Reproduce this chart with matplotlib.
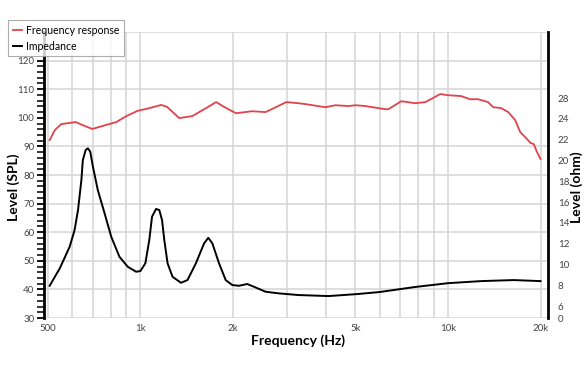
import matplotlib
matplotlib.use("Agg")
import matplotlib.pyplot as plt
from matplotlib.ticker import FixedLocator, NullFormatter, NullLocator

plt.rcParams['font.family'] = ['Lato', 'DejaVu Sans']

# ---- data ----
spl_freq = [507, 527, 553, 589, 616, 647, 698, 751, 835, 900, 978, 1071, 1169, 1222,
            1337, 1475, 1636, 1763, 1872, 2046, 2306, 2556, 2754, 2986, 3260, 3437,
            3995, 4306, 4752, 5010, 5396, 6260, 6400, 7055, 7835, 8445, 9445, 10000,
            11030, 11800, 12530, 13500, 14030, 14880, 15700, 16540, 17180, 17960,
            18560, 19020, 19480, 20000]
spl_db = [92.2, 95.7, 97.8, 98.2, 98.5, 97.5, 96.1, 97.1, 98.5, 100.6, 102.4, 103.4,
          104.5, 103.8, 99.9, 100.6, 103.4, 105.5, 103.8, 101.6, 102.3, 102.0, 103.7,
          105.5, 105.1, 104.8, 103.7, 104.4, 104.1, 104.4, 104.1, 103.0, 103.0, 105.8,
          105.1, 105.5, 108.3, 107.9, 107.6, 106.5, 106.5, 105.5, 103.7, 103.4, 102.0,
          99.2, 95.0, 92.9, 91.2, 90.8, 88.0, 85.6]

imp_freq = [507, 547, 589, 611, 627, 643, 650, 664, 675, 687, 701, 727, 765, 804, 855,
            910, 969, 1000, 1038, 1069, 1091, 1124, 1152, 1176, 1196, 1226, 1272, 1355,
            1423, 1515, 1611, 1663, 1714, 1802, 1894, 1990, 2091, 2225, 2339, 2552,
            2818, 3260, 4090, 5055, 6000, 7800, 10000, 12800, 16350, 20000]
imp_ohm = [7.95, 9.63, 11.71, 13.31, 15.24, 18.13, 20.05, 21.02, 21.18, 20.85, 19.41,
           17.16, 14.92, 12.67, 10.74, 9.78, 9.30, 9.37, 10.11, 12.35, 14.59, 15.34,
           15.24, 14.28, 12.35, 10.11, 8.82, 8.24, 8.50, 10.11, 12.03, 12.57, 12.03,
           10.11, 8.50, 8.02, 7.95, 8.12, 7.86, 7.38, 7.22, 7.06, 6.96, 7.15, 7.35,
           7.83, 8.2, 8.4, 8.5, 8.4]

x_tick_vals = [500, 1000, 2000, 5000, 10000, 20000]
x_tick_labels = ['500', '1k', '2k', '5k', '10k', '20k']
x_grid_vals = [500, 600, 700, 800, 900, 1000, 2000, 3000, 4000, 5000, 6000, 7000,
               8000, 9000, 10000, 20000]
spl_ticks = [30, 40, 50, 60, 70, 80, 90, 100, 110, 120]
spl_grid = [30, 40, 50, 60, 70, 80, 90, 110, 120, 130]
ohm_ticks = [4.85, 6, 8, 10, 12, 14, 16, 18, 20, 22, 24, 26]
ohm_labels = ['0', '6', '8', '10', '12', '14', '16', '18', '20', '22', '24', '28']

RED = '#e0434b'
GRID = '#d4d4d4'
TXT = '#444444'

W, H = 588, 372
fig = plt.figure(figsize=(W/100, H/100), dpi=100)
ax = fig.add_axes([44/W, 1-318/H, (548-44)/W, (318-32)/H])
ax.set_xscale('log')
ax.set_xlim(486, 21150)
ax.set_ylim(30, 130)

for v in x_grid_vals:
    ax.axvline(v, color=GRID, lw=1.1, zorder=0)
for v in spl_grid:
    ax.axhline(v, color=GRID, lw=1.1, zorder=0)

ax.xaxis.set_major_locator(FixedLocator(x_tick_vals))
ax.set_xticklabels(x_tick_labels)
ax.xaxis.set_minor_locator(NullLocator())
ax.tick_params(axis='x', length=0, labelsize=7, colors=TXT, pad=4)

ax.yaxis.set_major_locator(FixedLocator(spl_ticks))
ax.yaxis.set_minor_locator(FixedLocator(list(range(30, 122, 2))))
ax.yaxis.set_minor_formatter(NullFormatter())
ax.tick_params(axis='y', which='major', direction='out', length=5, width=1.3,
               color='black', labelsize=7, labelcolor=TXT, pad=2)
ax.tick_params(axis='y', which='minor', direction='out', length=5, width=1.1,
               color='black')

for s in ['top', 'bottom', 'right']:
    ax.spines[s].set_visible(False)
ax.spines['left'].set_linewidth(2.0)
ax.spines['left'].set_color('black')

ax.plot(spl_freq, spl_db, color=RED, lw=1.3, label='Frequency response', zorder=3,
        solid_joinstyle='round')

ax2 = ax.twinx()
ax2.set_ylim(4.85, 32.37)
ax2.yaxis.set_major_locator(FixedLocator(ohm_ticks))
ax2.set_yticklabels(ohm_labels)
ax2.tick_params(axis='y', length=0, labelsize=7, labelcolor=TXT, pad=7)
for s in ['top', 'bottom', 'left']:
    ax2.spines[s].set_visible(False)
ax2.spines['right'].set_linewidth(2.0)
ax2.spines['right'].set_color('black')
ax2.plot(imp_freq, imp_ohm, color='black', lw=1.4, label='Impedance', zorder=3,
         solid_joinstyle='round')

fig.text(298/W, 1-341/H, 'Frequency (Hz)', fontsize=10, fontweight='bold',
         ha='center', va='center')
fig.text(14/W, 1-187/H, 'Level (SPL)', fontsize=10, fontweight='bold',
         ha='center', va='center', rotation=90)
fig.text(577/W, 1-187/H, 'Level (ohm)', fontsize=10, fontweight='bold',
         ha='center', va='center', rotation=90)

h1, l1 = ax.get_legend_handles_labels()
h2, l2 = ax2.get_legend_handles_labels()
leg = fig.legend(h1 + h2, l1 + l2, loc='upper left',
                 bbox_to_anchor=(8/W, 1-20/H), fontsize=7.6, frameon=True,
                 fancybox=False, handlelength=0.9, handletextpad=0.35,
                 borderpad=0.45, labelspacing=0.45, borderaxespad=0)
leg.get_frame().set_edgecolor('#999999')
leg.get_frame().set_linewidth(0.8)

fig.savefig('out.png', dpi=100)
